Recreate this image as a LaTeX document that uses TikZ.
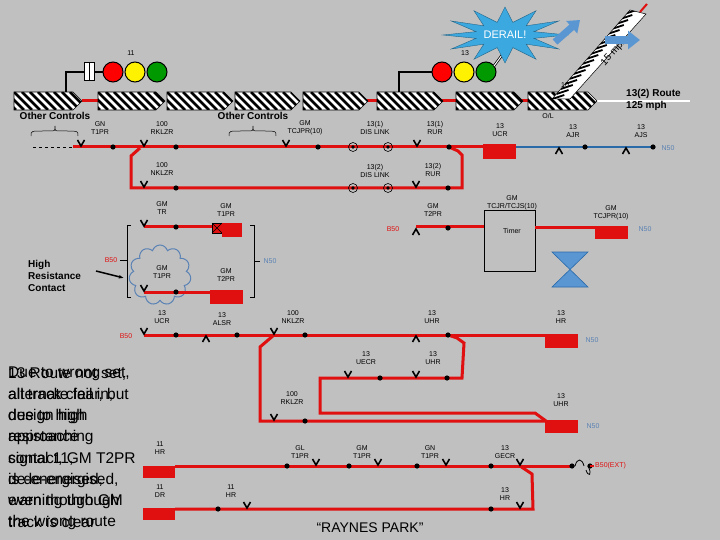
\documentclass[tikz,border=0pt]{standalone}
\usepackage{fontspec}
\setmainfont{Liberation Sans}
\usetikzlibrary{shapes.symbols,arrows.meta}
\definecolor{bg}{HTML}{C0C0C0}
\definecolor{trk}{HTML}{E01010}
\definecolor{nblue}{HTML}{5A82B4}
\definecolor{aj}{HTML}{2A6AA8}
\definecolor{sky}{HTML}{3CA8E0}
\definecolor{arr}{HTML}{5A96D2}
\tikzset{
 red line/.style={trk,line width=3pt},
 cont/.style={black,line width=1.6pt},
 lbl/.style={font=\fontsize{7}{8}\selectfont,align=center,inner sep=0pt},
 rlbl/.style={font=\fontsize{7}{8}\selectfont,trk,inner sep=0pt},
 blbl/.style={font=\fontsize{7}{8}\selectfont,nblue,inner sep=0pt},
 relay/.style={fill=trk,draw=none},
 big/.style={font=\fontsize{10}{12}\selectfont\bfseries,align=left,inner sep=0pt},
 note/.style={font=\fontsize{15.5}{21.3}\selectfont,align=left,inner sep=0pt,anchor=north west,text=black},
}
\newcommand\cv[2]{\draw[cont] ({#1-3.5},{#2-7})--(#1,{#2-1})--({#1+3.5},{#2-7});}
\newcommand\cu[2]{\draw[cont] ({#1-3.5},{#2+7})--(#1,{#2+1})--({#1+3.5},{#2+7});}
\newcommand\cd[2]{\fill (#1,#2) circle (2.6pt);}
\newcommand\dl[2]{\draw[black,line width=0.6pt] (#1,#2) circle (4.5pt); \fill (#1,#2) circle (1.8pt);}
\newcommand\blk[2]{\begin{scope}
 \path[clip] (#1,92)--({#2-9},92)--(#2,101)--({#2-9},110)--(#1,110)--cycle;
 \fill[white] (#1,92) rectangle (#2,110);
 \foreach \i in {-24,-16,...,72} \draw[line width=2.6pt] ({#1+\i},92)--({#1+\i+18},110);
 \end{scope}
 \draw[line width=0.6pt] (#1,92)--({#2-9},92)--(#2,101)--({#2-9},110)--(#1,110)--cycle;}
\begin{document}
\begin{tikzpicture}[x=1pt,y=-1pt]
\fill[bg] (0,0) rectangle (720,540);
\useasboundingbox (0,0) rectangle (720,540);
% top track
\draw[red line] (82,101)--(98,101);
\draw[red line] (366,101)--(377,101);
\draw[red line] (441,101)--(456,101);
\draw[red line] (521,101)--(528,101);
\draw[white,line width=2.5pt] (597,101)--(690,101);
\blk{14}{82}\blk{98}{165}\blk{167}{233}\blk{235}{300}\blk{303}{368}\blk{377}{443}\blk{456}{523}\blk{528}{597}
% 15 mph strip
\begin{scope}
\path[clip] (552,99)--(570,99)--(646,14)--(630,10)--cycle;
\fill[white] (540,0) rectangle (660,110);
\foreach \i in {0,5,...,100} \draw[line width=1.8pt] ({548+\i*0.85},{104-\i})--({560+\i*0.85},{100-\i});
\end{scope}
\draw[line width=0.5pt] (552,99)--(570,99)--(646,14)--(630,10)--cycle;
\draw[trk,line width=2pt] (640,12)--(647,4);
\node[font=\fontsize{10}{12}\selectfont,rotate=48] (mph) at (614,52) {15 mph};
\node[lbl] (ten) at (565,85) {10};
\node[lbl] (ol) at (548,116) {O/L};
\node[font=\fontsize{10}{12}\selectfont\bfseries,align=left,anchor=west,inner sep=0pt] (route) at (626,100) {13(2) Route\\125 mph};
% signal 11
\draw[line width=1.3pt] (66,92)--(66,72)--(84,72);
\draw[line width=1pt,fill=white] (84,63) rectangle (94,81); \draw[line width=1pt] (89,63)--(89,81);
\draw[line width=1.3pt] (94,72)--(103,72);
\filldraw[fill=red,line width=1pt] (113,72) circle (10pt);
\filldraw[fill=yellow,line width=1pt] (135,72) circle (10pt);
\filldraw[fill=green!60!black,line width=1pt] (157,72) circle (10pt);
\node[lbl] (s11) at (131,53) {11};
% signal 13
\draw[line width=1.3pt] (399,92)--(399,72)--(432,72);
\filldraw[fill=red,line width=1pt] (442,72) circle (10pt);
\filldraw[fill=yellow,line width=1pt] (464,72) circle (10pt);
\filldraw[fill=green!60!black,line width=1pt] (486,72) circle (10pt);
\node[lbl] (s13) at (465,53) {13};
\draw[line width=2.5pt] (494,66)--(510,44);
\draw[white,line width=1pt] (494,66)--(510,44);
% derail star
\fill[sky,draw=sky!60!black,line width=0.4pt] plot[samples at={0,...,23},smooth cycle,tension=0] ({505+((mod(\x,2)==0)?62:30)*cos(\x*15)},{35+((mod(\x,2)==0)?28:13)*sin(\x*15)}) -- cycle;
\node[font=\fontsize{11}{13}\selectfont,white] (derail) at (505,35) {DERAIL!};
\draw[arr,line width=7pt,-{Triangle[width=16pt,length=11pt]}] (555,42)--(580,20);
\draw[arr,line width=8pt,-{Triangle[width=18pt,length=12pt]}] (605,40)--(640,40);
% other controls
\node[big] (oc1) at (55,116) {Other Controls};
\node[big] (oc2) at (253,116) {Other Controls};
\draw[line width=0.5pt] (31,136) .. controls (31,131) .. (43,131) -- (50,131) .. controls (55,131) .. (55,126) .. controls (55,131) .. (60,131) -- (67,131) .. controls (78,131) .. (78,136);
\draw[line width=0.5pt] (229,136) .. controls (229,131) .. (241,131) -- (248,131) .. controls (253,131) .. (253,126) .. controls (253,131) .. (258,131) -- (265,131) .. controls (276,131) .. (276,136);
% row 1
\draw[dashed,line width=0.6pt] (33,147)--(73,147);
\draw[red line] (73,147)--(483,147);
\draw[red line] (449,147)--(458,151)--(462,155)--(462,188)--(131,188)--(131,156)--(140,148);
\fill[trk] (483,144) rectangle (516,159);
\draw[aj,line width=2.5pt] (516,147)--(653,147);
\cv{81}{147}\cd{113}{147}\cv{144}{147}\cd{176}{147}\cv{286}{147}\cd{318}{147}
\dl{353}{147}\dl{388}{147}\cv{417}{147}\cd{449}{147}
\cu{559}{147}\cd{585}{147}\cu{626}{147}\cd{653}{147}
\cv{144}{188}\cd{176}{188}\dl{353}{188}\dl{388}{188}\cv{416}{188}\cd{448}{188}
\node[lbl] (a1) at (100,128) {GN\\T1PR};
\node[lbl] (a2) at (162,128) {100\\RKLZR};
\node[lbl] (a3) at (305,128) {GM\\TCJPR(10)};
\node[lbl] (a4) at (375,128) {13(1)\\DIS LINK};
\node[lbl] (a5) at (435,128) {13(1)\\RUR};
\node[lbl] (a6) at (500,130) {13\\UCR};
\node[lbl] (a7) at (573,131) {13\\AJR};
\node[lbl] (a8) at (641,131) {13\\AJS};
\node[blbl] (n1) at (668,148) {N50};
\node[lbl] (b1) at (162,169) {100\\NKLZR};
\node[lbl] (b2) at (375,171) {13(2)\\DIS LINK};
\node[lbl] (b3) at (433,170) {13(2)\\RUR};
% GM group
\draw[line width=0.6pt] (131,225)--(127,225)--(127,297)--(131,297);
\draw[line width=0.6pt] (250,225)--(254,225)--(254,297)--(250,297);
\draw[line width=0.6pt] (120,260)--(127,260); \draw[line width=0.6pt] (254,261)--(260,261);
\node[rlbl] (b50a) at (111,260) {B50};
\node[blbl] (n50a) at (270,261) {N50};
\draw[red line] (144,227)--(222,227);
\filldraw[fill=trk,draw=black,line width=0.5pt] (212,223) rectangle (222,233);
\draw[line width=0.5pt] (212,223)--(222,233) (212,233)--(222,223);
\fill[trk] (222,223) rectangle (242,237);
\cv{144}{227}\cd{176}{227}
\node[lbl] (c1) at (162,208) {GM\\TR};
\node[lbl] (c2) at (226,210) {GM\\T1PR};
\node[cloud,cloud puffs=11,draw=nblue,line width=1pt,minimum width=62pt,minimum height=60pt] (cl) at (160,275) {};
\draw[red line] (144,292)--(212,292);
\fill[trk] (210,290) rectangle (243,304);
\cv{144}{292}\cd{176}{292}
\node[lbl] (c3) at (162,272) {GM\\T1PR};
\node[lbl] (c4) at (226,275) {GM\\T2PR};
\node[big,anchor=west] (hrc) at (28,276) {High\\Resistance\\Contact};
\draw[line width=1.5pt,-{Latex[length=5pt]}] (96,271)--(124,278);
% timer
\node[rlbl] (b50b) at (393,229) {B50};
\draw[red line] (416,227)--(484,227);
\cu{416}{228}\cd{448}{228}
\node[lbl] (t1) at (433,210) {GM\\T2PR};
\draw[line width=0.6pt] (484,210) rectangle (535,271);
\node[lbl] (timer) at (512,231) {Timer};
\node[lbl] (t2) at (512,203) {GM\\TCJR/TCJS(10)};
\draw[red line] (535,228)--(596,228);
\fill[trk] (595,226) rectangle (628,239);
\node[lbl] (t3) at (611,213) {GM\\TCJPR(10)};
\node[blbl] (n50b) at (645,229) {N50};
\fill[arr,draw=aj,line width=0.6pt] (552,252)--(588,252)--(552,287)--(588,287)--cycle;
% row 335
\node[rlbl] (b50c) at (126,336) {B50};
\draw[red line] (144,335)--(578,335);
\fill[trk] (545,336) rectangle (578,348);
\draw[red line] (274,335)--(260,347)--(260,421)--(545,421);
\draw[red line] (448,335)--(457,338)--(464,343)--(462,378)--(320,378)--(320,413)--(535,413)--(546,421);
\fill[trk] (545,420) rectangle (578,433);
\cv{144}{335}\cd{176}{335}\cu{206}{335}\cd{237}{335}\cv{274}{335}\cd{305}{335}\cu{416}{335}\cd{448}{335}
\node[lbl] (d1) at (162,317) {13\\UCR};
\node[lbl] (d2) at (222,319) {13\\ALSR};
\node[lbl] (d3) at (293,317) {100\\NKLZR};
\node[lbl] (d4) at (432,317) {13\\UHR};
\node[lbl] (d5) at (561,317) {13\\HR};
\node[blbl] (n50c) at (592,340) {N50};
\cv{348}{378}\cd{380}{378}\cv{416}{378}\cd{447}{378}
\node[lbl] (e1) at (366,358) {13\\UECR};
\node[lbl] (e2) at (433,358) {13\\UHR};
\cv{274}{421}\cd{305}{421}
\node[lbl] (e3) at (292,398) {100\\RKLZR};
\node[lbl] (e4) at (561,400) {13\\UHR};
\node[blbl] (n50d) at (593,426) {N50};
% row 466
\fill[trk] (143,466) rectangle (175,478);
\draw[red line] (175,466)--(570,466);
\draw[red line] (520,466)--(532,474)--(533,509)--(175,509);
\fill[trk] (143,508) rectangle (175,520);
\draw[line width=0.8pt] (570,466)--(575,466) (575,466) .. controls (577,458) and (582,458) .. (584,466);
\draw[line width=0.8pt] (586,470) .. controls (588,477) and (593,476) .. (588,466) -- (588,466);
\cd{572}{466}\cd{590}{466}
\draw[trk,line width=2pt] (590,466)--(594,466);
\node[rlbl,anchor=west] (b50ext) at (595,466) {B50(EXT)};
\cd{287}{466}\cv{316}{466}\cd{349}{466}\cv{378}{466}\cd{417}{466}\cv{446}{466}\cd{491}{466}\cv{520}{466}
\cd{218}{509}\cv{247}{509}\cd{491}{509}\cv{520}{509}
\node[lbl] (f1) at (160,448) {11\\HR};
\node[lbl] (f2) at (300,452) {GL\\T1PR};
\node[lbl] (f3) at (362,452) {GM\\T1PR};
\node[lbl] (f4) at (430,452) {GN\\T1PR};
\node[lbl] (f5) at (505,452) {13\\GECR};
\node[lbl] (f6) at (160,491) {11\\DR};
\node[lbl] (f7) at (231,491) {11\\HR};
\node[lbl] (f8) at (505,494) {13\\HR};
\node[font=\fontsize{14}{16}\selectfont] (rp) at (370,528) {“RAYNES PARK”};
% overlapping notes
\node[note] (na) at (8,367) {13 Route not set,\\all track clear, but\\design high\\resistance\\contact, GM T2PR\\is de-energised,\\even though GM\\track is clear};
\node[note] (nb) at (8,367) {Due to wrong set,\\alternate fail in,\\due to high\\approaching\\signal 11,\\de-energised,\\warning through\\the wrong route};
\end{tikzpicture}
\end{document}
